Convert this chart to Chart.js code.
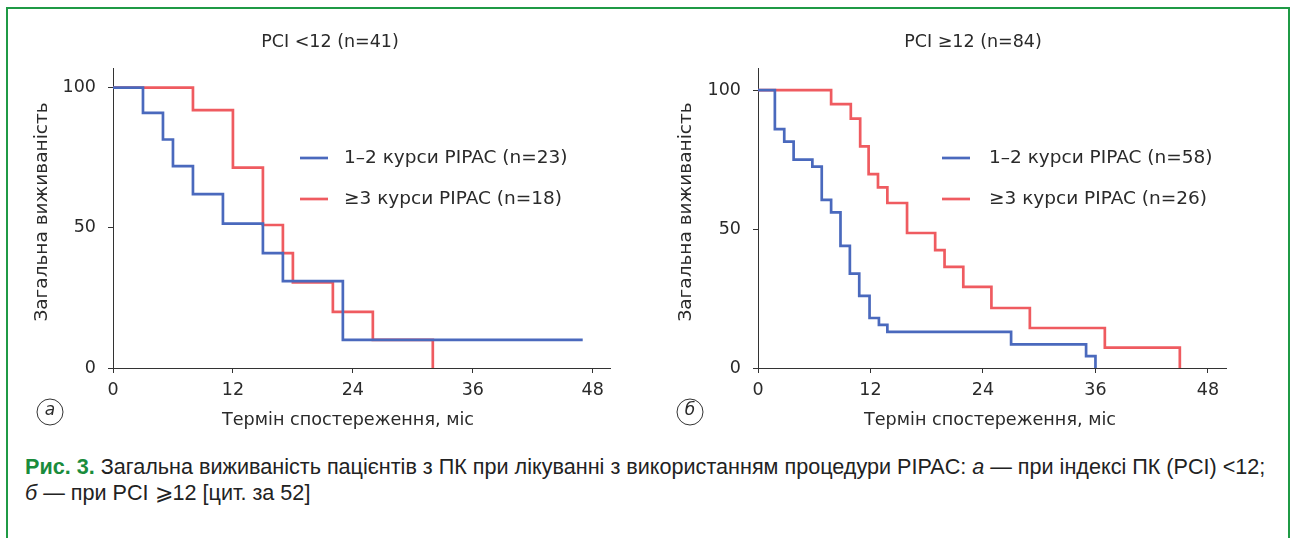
<!DOCTYPE html>
<html><head><meta charset="utf-8">
<script src="https://cdn.jsdelivr.net/npm/chart.js@4.4.0/dist/chart.umd.min.js"></script>
<style>
html,body{margin:0;padding:0;background:#fff;width:1293px;height:538px;overflow:hidden;}
#frame{position:absolute;left:6px;top:7px;width:1284px;height:600px;border:2px solid #1f9a45;box-sizing:border-box;}
.cv{position:absolute;top:0;}
#caption{position:absolute;left:25px;top:454px;font-family:"Liberation Sans",Arial,sans-serif;font-size:21.6px;line-height:26px;color:#222;white-space:nowrap;}
#caption b{color:#1a8c3c;}
</style></head><body>
<div id="frame"></div>
<div class="cv" style="left:0;width:645px;height:440px"><canvas id="c1" width="645" height="440"></canvas></div>
<div class="cv" style="left:645px;width:648px;height:440px"><canvas id="c2" width="648" height="440"></canvas></div>
<div id="caption"><b>Рис. 3.</b> Загальна виживаність пацієнтів з ПК при лікуванні з використанням процедури PIPAC: <i>а</i> — при індексі ПК (PCI)&nbsp;&lt;12;<br><i>б</i> — при PCI ⩾12 [цит. за 52]</div>
<script>
// ---- data ----
const X_TICKS = [0, 12, 24, 36, 48];
const Y_TICKS = [0, 50, 100];

const TITLE_A = "PCI <12 (n=41)";
const TITLE_B = "PCI \u226512 (n=84)";
const LABELS_A = ["1\u20132 курси PIPAC (n=23)", "\u22653 курси PIPAC (n=18)"];
const LABELS_B = ["1\u20132 курси PIPAC (n=58)", "\u22653 курси PIPAC (n=26)"];
const X_TITLE = "Термін спостереження, міс";
const Y_TITLE = "Загальна виживаність";

const BLUE_A_X = [0, 3, 5, 6, 8, 11, 15, 17, 23, 47];
const BLUE_A_Y = [100, 91, 81.5, 72, 62, 51.5, 41, 31, 10, 10];
const RED_A_X = [0, 8, 12, 15, 17, 18, 22, 26, 32];
const RED_A_Y = [100, 92, 71.5, 51, 41, 30.5, 20, 10, 0];

const BLUE_B_X = [0, 1.8, 2.8, 3.8, 5.8, 6.8, 7.8, 8.8, 9.8, 10.8, 11.9, 12.9, 13.8, 27, 35, 36];
const BLUE_B_Y = [100, 86, 81.5, 75, 72.5, 60.5, 56, 44, 34, 26, 18, 15.5, 13, 8.5, 4.3, 0];
const RED_B_X = [0, 7.8, 9.9, 10.9, 11.8, 12.8, 13.8, 15.9, 18.9, 19.9, 21.9, 24.9, 29, 37, 45];
const RED_B_Y = [100, 95, 89.8, 79.8, 69.8, 65, 59.4, 48.6, 42.4, 36.4, 29.2, 21.6, 14.4, 7.3, 0];

// ---- styles ----
const BLUE = '#4a69bd';
const RED = '#ef5b60';
const INK = '#2a2a2a';
const FONT = '"DejaVu Sans", sans-serif';

function pts(xs, ys) { return xs.map((x, i) => ({x: x, y: ys[i]})); }

function ds(label, xs, ys, color) {
  return {label: label, data: pts(xs, ys), borderColor: color, backgroundColor: color,
    borderWidth: 2.7, pointRadius: 0, stepped: true, fill: false, borderCapStyle: 'butt', borderJoinStyle: 'miter'};
}

const textPlugin = {
  id: 'texts',
  afterDraw(chart, args, o) {
    const ctx = chart.ctx;
    ctx.save();
    ctx.fillStyle = INK;
    ctx.textBaseline = 'middle';
    // title
    ctx.font = '17.5px ' + FONT;
    ctx.textAlign = 'center';
    ctx.fillText(o.title, o.titleX, 42);
    // legend
    ctx.font = '18.5px ' + FONT;
    ctx.textAlign = 'left';
    chart.data.datasets.forEach((d, i) => {
      const y = o.legY[i];
      ctx.strokeStyle = d.borderColor;
      ctx.lineWidth = 2.7;
      ctx.beginPath();
      ctx.moveTo(o.legX, y);
      ctx.lineTo(o.legX + 28, y);
      ctx.stroke();
      ctx.fillStyle = INK;
      ctx.fillText(d.label, o.legTextX, y);
    });
    // x title
    ctx.font = '17.6px ' + FONT;
    ctx.textAlign = 'center';
    ctx.fillText(X_TITLE, o.xTitleX, 420);
    // y title
    ctx.save();
    ctx.translate(o.yTitleX, 212);
    ctx.rotate(-Math.PI / 2);
    ctx.font = '18.5px ' + FONT;
    ctx.fillText(Y_TITLE, 0, 0);
    ctx.restore();
    // panel letter
    ctx.strokeStyle = '#333';
    ctx.lineWidth = 1;
    ctx.beginPath();
    ctx.arc(o.letX, 412, 13, 0, Math.PI * 2);
    ctx.stroke();
    ctx.font = 'italic 17px ' + FONT;
    ctx.fillText(o.letter, o.letX, 411);
    ctx.restore();
  }
};

function make(id, datasets, xMax, yMax, padRight, opts) {
  return new Chart(document.getElementById(id), {
    type: 'line',
    data: {datasets: datasets},
    plugins: [textPlugin],
    options: {
      responsive: false,
      animation: false,
      layout: {padding: {left: 0, top: 68, right: padRight, bottom: 0}},
      plugins: {legend: {display: false}, tooltip: {enabled: false}, title: {display: false}, texts: opts},
      scales: {
        x: {
          type: 'linear', min: 0, max: xMax,
          afterBuildTicks: s => { s.ticks = X_TICKS.map(v => ({value: v})); },
          afterFit: s => { s.height = 72; },
          grid: {drawOnChartArea: false, drawTicks: true, tickLength: 5, color: '#333'},
          border: {color: '#333', width: 1},
          ticks: {font: {family: FONT, size: 17.5}, color: INK, padding: 7, maxRotation: 0, autoSkip: false}
        },
        y: {
          type: 'linear', min: 0, max: yMax,
          afterBuildTicks: s => { s.ticks = Y_TICKS.map(v => ({value: v})); },
          afterFit: s => { s.width = 113; },
          grid: {drawOnChartArea: false, drawTicks: true, tickLength: 5, color: '#333'},
          border: {color: '#333', width: 1},
          ticks: {font: {family: FONT, size: 17.5}, color: INK, padding: 12}
        }
      }
    }
  });
}

make('c1', [ds(LABELS_A[0], BLUE_A_X, BLUE_A_Y, BLUE), ds(LABELS_A[1], RED_A_X, RED_A_Y, RED)],
  49.8, 107, 34.3,
  {title: TITLE_A, titleX: 330, legX: 300, legTextX: 344, legY: [158, 199], xTitleX: 348, yTitleX: 42, letX: 50, letter: 'а'});

make('c2', [ds(LABELS_B[0], BLUE_B_X, BLUE_B_Y, BLUE), ds(LABELS_B[1], RED_B_X, RED_B_Y, RED)],
  50, 108, 66.3,
  {title: TITLE_B, titleX: 328, legX: 297, legTextX: 344, legY: [158, 199], xTitleX: 345, yTitleX: 41, letX: 45, letter: 'б'});
</script>
</body></html>
